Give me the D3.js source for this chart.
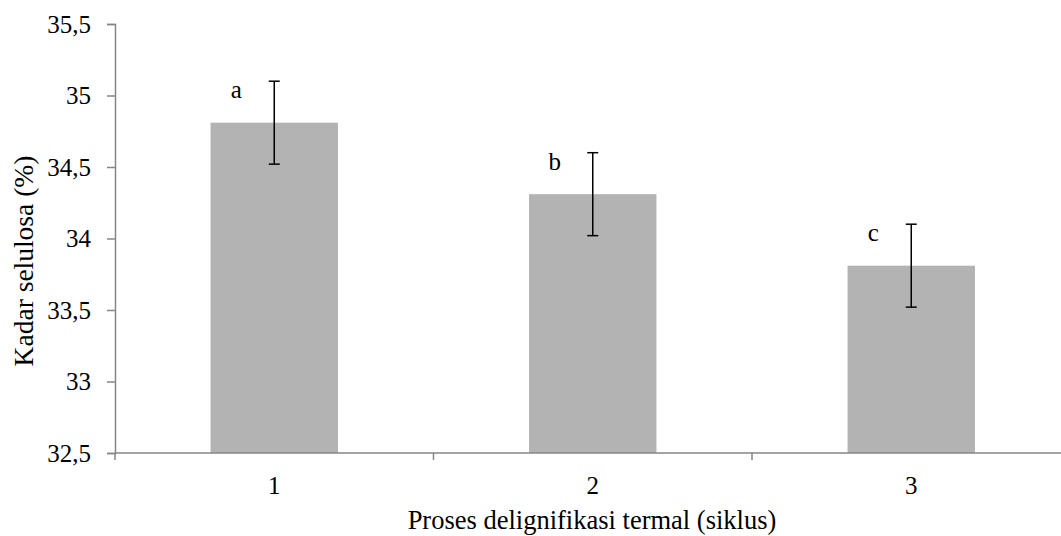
<!DOCTYPE html>
<html>
<head>
<meta charset="utf-8">
<script src="https://cdn.jsdelivr.net/npm/d3@7"></script>
<style>
  body { margin: 0; background: #fff; }
  svg, svg text { font-family: 'Liberation Serif', 'Times New Roman', Times, serif !important; }
</style>
</head>
<body>
<svg width="1061" height="536"></svg>
<script>
var categories = ['1', '2', '3'],
    values = [34.81, 34.31, 33.81],
    errors = [0.29, 0.29, 0.29],
    letters = ['a', 'b', 'c'],
    yTicks = [32.5, 33, 33.5, 34, 34.5, 35, 35.5];

var serif = "'Liberation Serif', 'Times New Roman', serif";

var svg = d3.select('svg').attr('font-family', serif),
    mLeft = 115,
    mTop = 24,
    mBottom = 453,
    mRight = 1070.5;

var x = d3.scaleBand()
    .domain(categories)
    .range([mLeft, mRight])
    .paddingInner(0.6)
    .paddingOuter(0.3);

var y = d3.scaleLinear()
    .domain([32.5, 35.5])
    .range([mBottom, mTop]);

// bars
svg.append('g')
  .selectAll('rect')
  .data(values)
  .enter().append('rect')
    .attr('x', function(d, i) { return x(categories[i]); })
    .attr('y', function(d) { return y(d); })
    .attr('width', x.bandwidth())
    .attr('height', function(d) { return mBottom - y(d); })
    .attr('fill', '#b3b3b3');

// y axis
var yAxis = svg.append('g')
    .attr('transform', 'translate(' + mLeft + ',0)')
    .call(d3.axisLeft(y)
      .tickValues(yTicks)
      .tickSize(8)
      .tickPadding(16)
      .tickFormat(function(d) { return String(d).replace('.', ','); }));
yAxis.attr('font-family', serif).attr('font-size', 25);
yAxis.select('.domain').attr('stroke', '#868686').attr('stroke-width', 1.5);
yAxis.selectAll('.tick line').attr('stroke', '#868686').attr('stroke-width', 1.5);
yAxis.selectAll('.tick text').attr('fill', '#000');

// x axis with ticks between categories
var step = x.step();
var xBoundaries = d3.range(categories.length + 1).map(function(i) { return mLeft + i * step; });

svg.append('line')
    .attr('x1', mLeft).attr('x2', mRight)
    .attr('y1', mBottom).attr('y2', mBottom)
    .attr('stroke', '#868686').attr('stroke-width', 1.5);

svg.append('g')
  .selectAll('line')
  .data(xBoundaries)
  .enter().append('line')
    .attr('x1', function(d) { return d; })
    .attr('x2', function(d) { return d; })
    .attr('y1', mBottom)
    .attr('y2', mBottom + 7)
    .attr('stroke', '#868686').attr('stroke-width', 1.5);

svg.append('g')
  .selectAll('text')
  .data(categories)
  .enter().append('text')
    .attr('x', function(d) { return x(d) + x.bandwidth() / 2; })
    .attr('y', 494)
    .attr('text-anchor', 'middle')
    .attr('font-size', 25)
    .text(function(d) { return d; });

// error bars
var err = svg.append('g')
  .selectAll('g')
  .data(values)
  .enter().append('g')
    .attr('stroke', '#000')
    .attr('stroke-width', 1.5);

err.append('line')
    .attr('x1', function(d, i) { return x(categories[i]) + x.bandwidth() / 2; })
    .attr('x2', function(d, i) { return x(categories[i]) + x.bandwidth() / 2; })
    .attr('y1', function(d, i) { return y(d + errors[i]); })
    .attr('y2', function(d, i) { return y(d - errors[i]); });

[1, -1].forEach(function(s) {
  err.append('line')
      .attr('x1', function(d, i) { return x(categories[i]) + x.bandwidth() / 2 - 5.5; })
      .attr('x2', function(d, i) { return x(categories[i]) + x.bandwidth() / 2 + 5.5; })
      .attr('y1', function(d, i) { return y(d + s * errors[i]); })
      .attr('y2', function(d, i) { return y(d + s * errors[i]); });
});

// significance letters
svg.append('g')
  .selectAll('text')
  .data(values)
  .enter().append('text')
    .attr('x', function(d, i) { return x(categories[i]) + x.bandwidth() / 2 - 38; })
    .attr('y', function(d, i) { return y(d + errors[i]) + 17; })
    .attr('text-anchor', 'middle')
    .attr('font-size', 25)
    .text(function(d, i) { return letters[i]; });

// axis titles
svg.append('text')
    .attr('x', 592)
    .attr('y', 529)
    .attr('text-anchor', 'middle')
    .attr('font-size', 26.5)
    .text('Proses delignifikasi termal (siklus)');

svg.append('text')
    .attr('transform', 'translate(33,261) rotate(-90)')
    .attr('text-anchor', 'middle')
    .attr('font-size', 27.5)
    .text('Kadar selulosa (%)');
</script>
</body>
</html>
